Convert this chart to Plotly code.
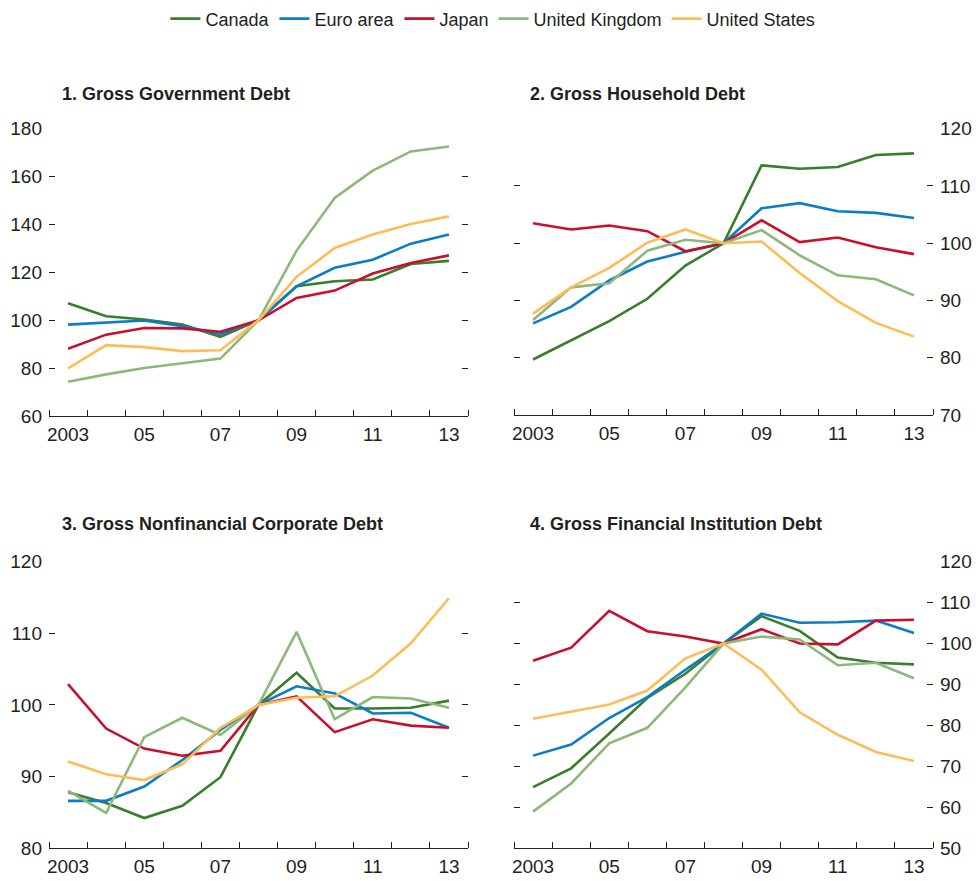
import plotly.graph_objects as go

years = list(range(2003, 2014))
countries = ["Canada", "Euro area", "Japan", "United Kingdom", "United States"]
colors = ["#3a7d2c", "#0b7dc4", "#c8102e", "#8db77b", "#fdbd56"]

gov_canada = [107.1, 101.7, 100.3, 98.2, 93.1, 100, 114.2, 116.3, 117.0, 123.5, 124.8]
gov_euro = [98.2, 98.9, 99.9, 97.5, 94.3, 100, 114.2, 121.9, 125.3, 132.0, 135.8]
gov_japan = [88.1, 94.0, 96.8, 96.6, 95.2, 100, 109.3, 112.4, 119.5, 123.9, 127.1]
gov_uk = [74.3, 77.4, 80.1, 81.9, 84.0, 100, 129.1, 151.1, 162.5, 170.5, 172.6]
gov_us = [79.9, 89.6, 88.8, 87.1, 87.5, 100, 118.1, 130.2, 135.8, 140.2, 143.4]

hh_canada = [79.7, 83.1, 86.4, 90.3, 96.1, 100, 113.6, 113.0, 113.3, 115.4, 115.7]
hh_euro = [86.0, 88.9, 93.5, 96.8, 98.5, 100, 106.1, 107.0, 105.6, 105.3, 104.4]
hh_japan = [103.5, 102.4, 103.1, 102.1, 98.6, 100, 104.0, 100.2, 101.0, 99.3, 98.1]
hh_uk = [86.6, 92.3, 93.0, 98.7, 100.6, 100, 102.3, 97.9, 94.4, 93.7, 90.9]
hh_us = [87.7, 92.3, 95.7, 100.1, 102.4, 100, 100.3, 94.8, 89.9, 86.1, 83.7]

corp_canada = [87.8, 86.3, 84.2, 85.9, 89.9, 100, 104.5, 99.5, 99.5, 99.6, 100.6]
corp_euro = [86.6, 86.6, 88.6, 92.3, 96.5, 100, 102.6, 101.6, 98.8, 98.9, 96.8]
corp_japan = [102.9, 96.7, 93.9, 92.9, 93.6, 100, 101.2, 96.2, 98.0, 97.1, 96.8]
corp_uk = [88.0, 84.9, 95.5, 98.2, 95.8, 100, 110.2, 98.0, 101.1, 100.9, 99.6]
corp_us = [92.1, 90.3, 89.5, 91.7, 96.8, 100, 101.0, 101.2, 104.1, 108.6, 114.9]

fin_canada = [64.9, 69.5, 78.0, 86.7, 92.6, 100, 106.7, 103.1, 96.6, 95.3, 94.9]
fin_euro = [72.6, 75.3, 81.8, 86.9, 93.6, 100, 107.3, 105.1, 105.2, 105.6, 102.6]
fin_japan = [95.8, 99.0, 108.0, 103.0, 101.7, 100, 103.5, 100.0, 99.8, 105.6, 105.8]
fin_uk = [58.9, 65.8, 75.6, 79.4, 89.3, 100, 101.7, 101.0, 94.7, 95.3, 91.5]
fin_us = [81.6, 83.4, 85.1, 88.5, 96.4, 100, 93.6, 83.2, 77.7, 73.5, 71.3]

titles = ["1. Gross Government Debt", "2. Gross Household Debt",
          "3. Gross Nonfinancial Corporate Debt", "4. Gross Financial Institution Debt"]
x_tickvals = [2003, 2005, 2007, 2009, 2011, 2013]
x_ticktext = ["2003", "05", "07", "09", "11", "13"]
y_ranges = [(60, 180, 20), (70, 120, 10), (80, 120, 10), (50, 120, 10)]

panels = [
    [gov_canada, gov_euro, gov_japan, gov_uk, gov_us],
    [hh_canada, hh_euro, hh_japan, hh_uk, hh_us],
    [corp_canada, corp_euro, corp_japan, corp_uk, corp_us],
    [fin_canada, fin_euro, fin_japan, fin_uk, fin_us],
]

W, H = 976, 881
# pixel boxes (left, right, top, bottom)
boxes = [(49, 468, 127, 415), (514, 933, 127, 414), (49, 468, 561, 848), (514, 933, 561, 848)]
title_pos = [(60, 92), (528, 92), (60, 523), (528, 523)]

FONT = "Liberation Sans, Arial, Helvetica, sans-serif"
TXT = "#231f20"

fig = go.Figure()
layout = dict(
    width=W, height=H, margin=dict(l=0, r=0, t=0, b=0),
    plot_bgcolor="white", paper_bgcolor="white",
    font=dict(family=FONT, size=19, color=TXT),
    showlegend=True,
    legend=dict(orientation="h", x=0.505, xanchor="center", y=1 - 17 / H, yanchor="middle",
                font=dict(size=18, family=FONT, color=TXT), itemwidth=30, tracegroupgap=0),
)

for p in range(4):
    ax = "" if p == 0 else str(p + 1)
    for i, name in enumerate(countries):
        fig.add_trace(go.Scatter(
            x=years, y=panels[p][i], mode="lines", name=name,
            line=dict(color=colors[i], width=2.6),
            xaxis="x" + ax, yaxis="y" + ax,
            showlegend=(p == 0), legendgroup=name,
        ))
    l, r, t, b = boxes[p]
    lo, hi, step = y_ranges[p]
    right = p in (1, 3)
    layout["xaxis" + ax] = dict(
        domain=[l / W, r / W], range=[2002.5, 2013.5], anchor="y" + ax,
        tickmode="array", tickvals=x_tickvals, ticktext=x_ticktext, ticks="", ticklen=0,
        showline=True, linecolor=TXT, linewidth=1.2, showgrid=False, zeroline=False,
        tickfont=dict(size=19, color=TXT, family=FONT), ticklabelstandoff=1,
        minor=dict(tickmode="array", tickvals=[y - 0.5 for y in years] + [2013.5],
                   ticks="inside", ticklen=6, tickcolor=TXT, tickwidth=1.2, showgrid=False),
        automargin=False, fixedrange=True,
    )
    layout["yaxis" + ax] = dict(
        domain=[1 - b / H, 1 - t / H], range=[lo, hi], anchor="x" + ax,
        side="right" if right else "left",
        tickmode="linear", tick0=lo, dtick=step,
        ticks="inside", ticklen=6, tickcolor=TXT, tickwidth=1.2, mirror="ticks",
        showline=False, showgrid=False, zeroline=False,
        tickfont=dict(size=19, color=TXT, family=FONT), ticklabelstandoff=6,
        automargin=False, fixedrange=True,
    )

annotations = []
for p in range(4):
    x, y = title_pos[p]
    annotations.append(dict(
        text="<b>" + titles[p] + "</b>", x=x / W, y=1 - y / H, xref="paper", yref="paper",
        xanchor="left", yanchor="middle", showarrow=False,
        font=dict(size=18, family=FONT, color=TXT),
    ))
layout["annotations"] = annotations
fig.update_layout(**layout)
fig.write_html("out.html", config={"displayModeBar": False},
               post_script="document.body.style.margin='0';document.body.style.overflow='hidden';")
